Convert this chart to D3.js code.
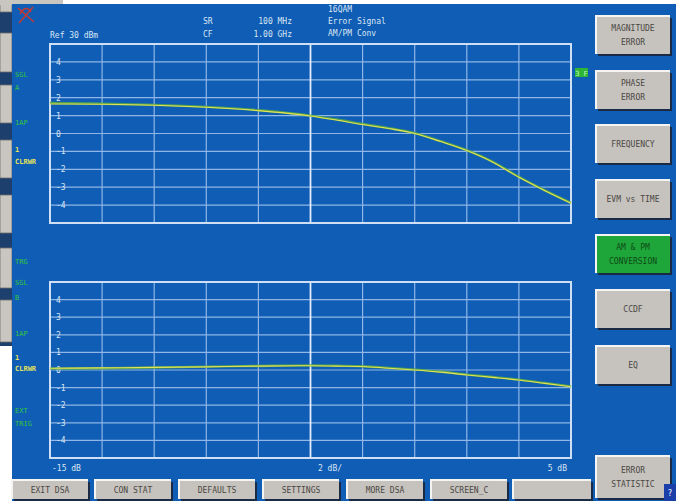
<!DOCTYPE html>
<html><head><meta charset="utf-8">
<script src="https://cdn.jsdelivr.net/npm/d3@7"></script>
<style>
html,body{margin:0;padding:0;background:#fff;}
svg{display:block;}
text{font-family:"DejaVu Sans Mono","Liberation Mono",monospace;}
</style></head>
<body>
<script>
// ---- data ----
const levelsDb = [-15,-13,-11,-9,-7,-5,-4,-3,-2,-1,0,1,2,3,4,5];
const amAmMeas = [1.65,1.63,1.58,1.47,1.28,0.98,0.75,0.5,0.28,0.0,-0.45,-0.95,-1.6,-2.45,-3.2,-3.9];
const amAmRef  = [1.70,1.66,1.60,1.49,1.30,1.00,0.78,0.53,0.30,0.02,-0.43,-0.93,-1.58,-2.42,-3.18,-3.88];
const amPmMeas = [0.10,0.12,0.15,0.18,0.22,0.24,0.22,0.20,0.10,0.0,-0.12,-0.28,-0.42,-0.57,-0.76,-0.95];
const amPmRef  = [0.08,0.10,0.14,0.19,0.23,0.26,0.24,0.21,0.12,0.02,-0.10,-0.26,-0.40,-0.55,-0.74,-0.93];
const yTickLabels = ["4","3","2","1","0","-1","-2","-3","-4"];
const yTickValues = [4,3,2,1,0,-1,-2,-3,-4];
const xTickValues = [-15,-13,-11,-9,-7,-5,-3,-1,1,3,5];
const xAxisLabels = ["-15 dB","2 dB/","5 dB"];
const headerLeft = ["Ref 30 dBm"];
const headerMid1 = ["SR","CF"];
const headerMid2 = ["100 MHz","1.00 GHz"];
const headerRight = ["16QAM","Error Signal","AM/PM Conv"];
const rightButtons = [["MAGNITUDE","ERROR"],["PHASE","ERROR"],["FREQUENCY"],["EVM vs TIME"],["AM & PM","CONVERSION"],["CCDF"],["EQ"],["ERROR","STATISTIC"]];
const bottomButtons = ["EXIT DSA","CON STAT","DEFAULTS","SETTINGS","MORE DSA","SCREEN_C",""];
const upperSideLabels = ["SGL","A","1AP"];
const lowerSideLabels = ["TRG","SGL","B","1AP","EXT","TRIG"];
const traceLabel = ["1","CLRWR"];

const W=676,H=501;
const svg=d3.select("body").append("svg").attr("width",W).attr("height",H);

const BLUE="#0f5db5", GRID="#8fb6e6", FRAME="#cfe0f6", TXT="#dbe6f4";
const GREEN="#35c53a", YEL="#e4e25a";

// background window strip on the left
svg.append("rect").attr("x",0).attr("y",0).attr("width",W).attr("height",H).attr("fill","#ffffff");
svg.append("rect").attr("x",0).attr("y",0).attr("width",14).attr("height",346).attr("fill","#1d3f6e");
const stripBtns=[[0,12],[33,72],[85,123],[140,178],[195,233],[248,288],[300,342]];
svg.selectAll("rect.sb").data(stripBtns).enter().append("rect")
  .attr("x",0).attr("y",d=>d[0]).attr("width",12).attr("height",d=>d[1]-d[0])
  .attr("fill","#c9c6c0").attr("stroke","#6d6d6d").attr("stroke-width",0.8);
svg.append("rect").attr("x",0).attr("y",0).attr("width",63).attr("height",5).attr("fill","#c9c6c0");

// main blue panel
svg.append("rect").attr("x",12).attr("y",4).attr("width",W-12).attr("height",H-4).attr("fill",BLUE);

// red logo
const lg=svg.append("g").attr("stroke","#c23a35").attr("fill","none").attr("stroke-width",1.6);
lg.append("path").attr("d","M18,8 L34,22 M33,7 L19,23 M20,14 Q26,4 31,12");

const x=d3.scaleLinear().domain([-15,5]).range([50,571]);
const yTop=d3.scaleLinear().domain([-5,5]).range([223,44]);
const yBot=d3.scaleLinear().domain([-5,5]).range([458,282]);

function panel(y, meas, ref){
  const g=svg.append("g");
  // horizontal grid
  g.selectAll("line.h").data(d3.range(-4,5)).enter().append("line")
    .attr("x1",x(-15)).attr("x2",x(5)).attr("y1",d=>y(d)).attr("y2",d=>y(d))
    .attr("stroke",GRID).attr("stroke-width",1.2);
  // vertical grid
  g.selectAll("line.v").data(xTickValues).enter().append("line")
    .attr("x1",d=>x(d)).attr("x2",d=>x(d)).attr("y1",y(5)).attr("y2",y(-5))
    .attr("stroke",d=>d===-5?"#e4eefb":GRID).attr("stroke-width",d=>d===-5?1.8:1.2);
  // frame
  g.append("rect").attr("x",x(-15)).attr("y",y(5)).attr("width",x(5)-x(-15)).attr("height",y(-5)-y(5))
    .attr("fill","none").attr("stroke",FRAME).attr("stroke-width",2);
  // tick labels
  g.selectAll("text.yl").data(yTickValues).enter().append("text")
    .attr("x",x(-15)+6).attr("y",d=>y(d)+3).attr("font-size",8).attr("fill",TXT)
    .text((d,i)=>yTickLabels[i]);
  const line=d3.line().x((d,i)=>x(levelsDb[i])).y(d=>y(d)).curve(d3.curveMonotoneX);
  g.append("path").attr("d",line(ref)).attr("fill","none").attr("stroke","#5aa845").attr("stroke-width",2.4).attr("opacity",0.9);
  g.append("path").attr("d",line(meas)).attr("fill","none").attr("stroke",YEL).attr("stroke-width",1.1);
}
panel(yTop, amAmMeas, amAmRef);
panel(yBot, amPmMeas, amPmRef);

// header texts
const ht=svg.append("g").attr("font-size",8).attr("fill",TXT);
ht.append("text").attr("x",50).attr("y",38).text(headerLeft[0]);
ht.selectAll("text.m1").data(headerMid1).enter().append("text").attr("x",203).attr("y",(d,i)=>24+i*13).text(d=>d);
ht.selectAll("text.m2").data(headerMid2).enter().append("text").attr("x",292).attr("y",(d,i)=>24+i*13).attr("text-anchor","end").text(d=>d);
ht.selectAll("text.r").data(headerRight).enter().append("text").attr("x",328).attr("y",(d,i)=>12+i*12).text(d=>d);

// x-axis labels
const xl=svg.append("g").attr("font-size",8).attr("fill",TXT);
xl.append("text").attr("x",52).attr("y",471).text(xAxisLabels[0]);
xl.append("text").attr("x",330).attr("y",471).attr("text-anchor","middle").text(xAxisLabels[1]);
xl.append("text").attr("x",567).attr("y",471).attr("text-anchor","end").text(xAxisLabels[2]);

// side labels
const sl=svg.append("g").attr("font-size",7);
const upY=[77,90,125], loY=[264,285,300,336,413,426];
sl.selectAll("text.u").data(upperSideLabels).enter().append("text").attr("x",15).attr("y",(d,i)=>upY[i]).attr("fill",GREEN).text(d=>d);
sl.selectAll("text.l").data(lowerSideLabels).enter().append("text").attr("x",15).attr("y",(d,i)=>loY[i]).attr("fill",GREEN).text(d=>d);
[[152,164],[360,371]].forEach(p=>{
  sl.append("text").attr("x",15).attr("y",p[0]).attr("fill",YEL).attr("font-weight","bold").text(traceLabel[0]);
  sl.append("text").attr("x",15).attr("y",p[1]).attr("fill",YEL).attr("font-weight","bold").text(traceLabel[1]);
});
// right green marker
svg.append("rect").attr("x",575).attr("y",68).attr("width",13).attr("height",9).attr("fill","#2fb536");
svg.append("text").attr("x",581.5).attr("y",75.5).attr("text-anchor","middle").attr("font-size",7).attr("fill","#c8f5c0").text("3 F");

// buttons
function button(x0,y0,w,h,lines,fill){
  const g=svg.append("g");
  g.append("rect").attr("x",x0+2).attr("y",y0+2).attr("width",w).attr("height",h).attr("fill","#1b2a44");
  g.append("rect").attr("x",x0).attr("y",y0).attr("width",w).attr("height",h).attr("fill",fill||"#c6c2bd");
  g.append("path").attr("d",`M${x0},${y0+h} L${x0},${y0} L${x0+w},${y0}`).attr("stroke","#f4f4f2").attr("stroke-width",2).attr("fill","none");
  const n=lines.length;
  g.selectAll("text").data(lines).enter().append("text")
    .attr("x",x0+w/2).attr("y",(d,i)=>y0+h/2+3+(i-(n-1)/2)*14)
    .attr("text-anchor","middle").attr("font-size",8).attr("fill",fill?"#0d4a16":"#4a4844").text(d=>d);
}
const rbY=[16,71,125,180,235,290,346,456];
rightButtons.forEach((b,i)=>{
  const h=i===7?42:38;
  button(596,rbY[i],74,h,b,i===4?"#1fa63a":null);
});
const bbX=[12,95,179,263,347,431,513];
const bbW=[76,76,76,76,76,76,78];
bottomButtons.forEach((b,i)=>button(bbX[i],480,bbW[i],19,b?[b]:[]));
// small blue corner box
svg.append("rect").attr("x",664).attr("y",484).attr("width",12).attr("height",17).attr("fill","#1a3fa8");
svg.append("text").attr("x",670).attr("y",496).attr("text-anchor","middle").attr("font-size",8).attr("fill","#fff").text("?");
</script>
</body></html>
